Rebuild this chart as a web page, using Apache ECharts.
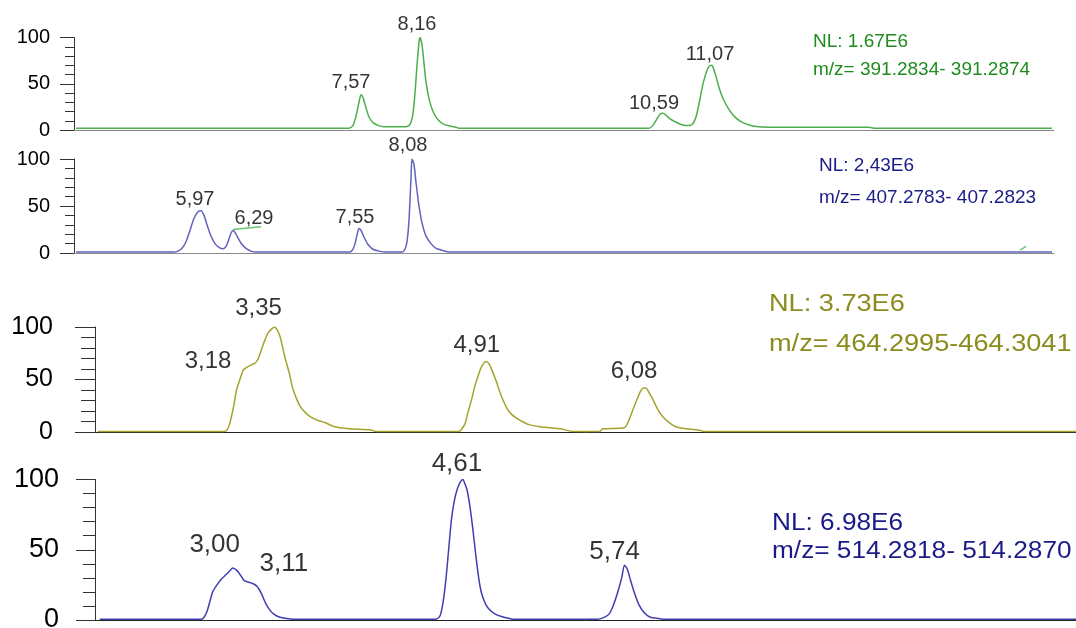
<!DOCTYPE html>
<html><head><meta charset="utf-8">
<script src="https://cdn.jsdelivr.net/npm/echarts@6/dist/echarts.min.js"></script>
<style>html,body{margin:0;padding:0;background:#fff}#c{width:1076px;height:628px}</style>
</head><body><div id="c"></div>
<script>
// ---------------- data ----------------
const yTicks = [0, 50, 100];
const xRange1 = [4.70, 14.50];
const xRange2 = [4.70, 14.50];
const xRange3 = [2.03, 9.24];
const xRange4 = [2.037, 8.897];

const trace1 = [[4.72,2],[7.45,2],[7.49,5],[7.52,15],[7.55,30],[7.57,38],[7.59,35],[7.62,24],[7.65,14],[7.69,8],[7.74,5],[7.80,3.5],[8.02,3.5],[8.06,6],[8.09,18],[8.11,40],[8.13,70],[8.15,95],[8.16,100],[8.18,92],[8.20,72],[8.22,52],[8.25,34],[8.29,20],[8.34,11],[8.40,6],[8.47,4],[8.52,3],[8.55,2],[10.45,2],[10.49,5],[10.53,12],[10.56,17],[10.59,18],[10.62,16],[10.66,12],[10.71,9],[10.77,6],[10.82,5],[10.86,5],[10.89,7],[10.92,14],[10.95,28],[10.98,45],[11.01,58],[11.04,67],[11.07,70],[11.09,68],[11.12,58],[11.15,46],[11.19,34],[11.24,24],[11.30,15],[11.37,9],[11.45,5.5],[11.55,3.5],[11.70,3],[12.65,3],[12.70,2],[14.48,2]];
const trace2 = [[4.72,1],[5.70,1],[5.74,2],[5.78,5],[5.82,12],[5.86,24],[5.90,37],[5.94,44],[5.97,45],[6.00,40],[6.03,30],[6.07,18],[6.11,10],[6.15,6],[6.19,4.5],[6.22,7],[6.25,15],[6.27,21],[6.29,24],[6.31,22],[6.34,16],[6.38,9],[6.42,5],[6.47,2],[6.52,1],[7.46,1],[7.49,4],[7.51,10],[7.53,19],[7.55,26],[7.57,24],[7.60,17],[7.64,9],[7.69,4],[7.75,2],[7.82,1],[7.98,1],[8.01,4],[8.03,12],[8.05,35],[8.07,80],[8.08,100],[8.10,94],[8.12,75],[8.15,50],[8.18,32],[8.22,18],[8.27,10],[8.32,5],[8.38,3],[8.45,1],[14.48,1]];
const stray2a = [[6.29,25],[6.57,28]];
const stray2b = [[14.16,3],[14.22,7]];
const trace3 = [[2.05,0.5],[2.98,0.5],[3.00,2],[3.02,8],[3.05,25],[3.07,40],[3.10,52],[3.12,59],[3.15,62],[3.18,64],[3.21,66],[3.23,70],[3.26,81],[3.28,88],[3.30,94],[3.32,97],[3.35,100],[3.37,97],[3.39,91],[3.41,80],[3.43,69],[3.46,55],[3.48,43],[3.51,32],[3.54,24],[3.58,18],[3.62,14],[3.67,11],[3.72,9],[3.77,6],[3.83,4],[3.90,3],[4.06,2],[4.09,0.5],[4.70,0.5],[4.72,2],[4.75,8],[4.77,18],[4.80,32],[4.82,43],[4.85,55],[4.87,62],[4.90,67],[4.91,67],[4.93,64],[4.95,58],[4.98,48],[5.00,40],[5.03,30],[5.06,22],[5.09,17],[5.13,13],[5.17,10],[5.22,7],[5.30,5],[5.38,4],[5.45,3],[5.55,0.5],[5.74,0.5],[5.76,3],[5.92,4],[5.95,10],[5.98,20],[6.01,30],[6.04,39],[6.06,42],[6.08,42],[6.10,38],[6.13,31],[6.16,23],[6.20,15],[6.25,9],[6.30,5],[6.38,3],[6.48,1.5],[6.50,0.5],[9.24,0.5]];
const trace4 = [[2.07,0.5],[2.78,0.5],[2.80,2],[2.82,6],[2.84,13],[2.86,20],[2.89,25],[2.92,29],[2.95,32],[2.98,35],[3.00,37],[3.02,36],[3.04,34],[3.06,31],[3.08,28],[3.11,27],[3.14,26],[3.17,24],[3.20,19],[3.23,12],[3.26,7],[3.29,4],[3.33,2],[3.38,1],[3.42,0.5],[4.42,0.5],[4.45,3],[4.47,12],[4.49,28],[4.51,50],[4.53,72],[4.55,85],[4.57,93],[4.59,98],[4.61,100],[4.62,98],[4.64,92],[4.66,80],[4.68,64],[4.70,46],[4.72,30],[4.74,19],[4.77,11],[4.80,7],[4.84,4],[4.88,2.5],[4.93,1.2],[4.97,0.5],[5.55,0.5],[5.59,1.5],[5.63,4],[5.66,10],[5.69,19],[5.72,30],[5.74,39],[5.76,36],[5.78,29],[5.81,19],[5.84,11],[5.88,5],[5.92,2],[5.98,1],[6.02,0.5],[8.897,0.5]];

const peaks1 = [[7.57,38],[8.16,100],[10.59,18],[11.07,70]];
const peaks2 = [[5.97,45],[6.29,24],[7.55,26],[8.08,100]];
const peaks3 = [[3.18,64],[3.35,100],[4.91,67],[6.08,42]];
const peaks4 = [[3.00,37],[3.11,27],[4.61,100],[5.74,39]];

const info1 = ['NL: 1.67E6', 'm/z= 391.2834- 391.2874'];
const info2 = ['NL: 2,43E6', 'm/z= 407.2783- 407.2823'];
const info3 = ['NL: 3.73E6', 'm/z= 464.2995-464.3041'];
const info4 = ['NL: 6.98E6', 'm/z= 514.2818- 514.2870'];

// ---------------- styles ----------------
const FONT = '"Liberation Sans", Arial, sans-serif';
const panels = [
  {grid:{left:74, top:37.5, width:980, height:92.5}, range:xRange1, trace:trace1, peaks:peaks1, info:info1,
   line:'#4cae4c', text:'#1e8c1e', xLine:'#8a8a8a', tickFont:20, labelFont:20, margin:24, tickLen:14, minorLen:9,
   lab:[{p:'top',d:2,o:[-10,0]},{p:'top',d:3,o:[-3,0]},{p:'top',d:0,o:[-9,0]},{p:'top',d:1,o:[-1,0]}],
   infoPos:[[813,42],[813,70]], infoFont:19, infoScale:1},
  {grid:{left:74, top:159, width:980, height:94}, range:xRange2, trace:trace2, peaks:peaks2, info:info2,
   line:'#6262bc', text:'#1c1c86', xLine:'#8a8a8a', tickFont:20, labelFont:20, margin:24, tickLen:14, minorLen:9,
   lab:[{p:'top',d:1,o:[-6,0]},{p:'top',d:2,o:[21,0]},{p:'top',d:1,o:[-4,0]},{p:'top',d:4,o:[-4,0]}],
   infoPos:[[819,166],[819,198]], infoFont:19, infoScale:1},
  {grid:{left:95, top:327, width:981, height:105}, range:xRange3, trace:trace3, peaks:peaks3, info:info3,
   line:'#a4a42c', text:'#8c8c1e', xLine:'#222222', tickFont:25, labelFont:24, margin:42, tickLen:20, minorLen:14,
   lab:[{p:'left',d:20,o:[0,-3]},{p:'top',d:7,o:[-16,0]},{p:'top',d:4,o:[-10,0]},{p:'top',d:5,o:[-12,0]}],
   infoPos:[[769,305],[769,345]], infoFont:23, infoScale:1.18},
  {grid:{left:95, top:479.5, width:981, height:140.5}, range:xRange4, trace:trace4, peaks:peaks4, info:info4,
   line:'#3e3eb0', text:'#1a1a88', xLine:'#222222', tickFont:27, labelFont:26, margin:36, tickLen:19, minorLen:12,
   lab:[{p:'top',d:10,o:[-18,0]},{p:'right',d:11,o:[0,-18]},{p:'top',d:3,o:[-6,0]},{p:'top',d:0,o:[-10,0]}],
   infoPos:[[772,524],[772,552]], infoFont:23, infoScale:1.14}
];

const fmt = v => v.toFixed(2).replace('.', ',');

const option = {
  backgroundColor:'#fff',
  animation:false,
  grid: panels.map(p => Object.assign({containLabel:false, outerBoundsMode:'none'}, p.grid)),
  xAxis: panels.map((p,i) => ({
    type:'value', gridIndex:i, min:p.range[0], max:p.range[1],
    axisLine:{show:true, lineStyle:{color:p.xLine, width:1}},
    axisTick:{show:false}, axisLabel:{show:false}, splitLine:{show:false}
  })),
  yAxis: panels.map((p,i) => ({
    type:'value', gridIndex:i, min:yTicks[0], max:yTicks[yTicks.length-1], interval:yTicks[1]-yTicks[0],
    axisLine:{show:true, lineStyle:{color:'#333', width:1}},
    axisTick:{show:true, length:p.tickLen, lineStyle:{color:'#333', width:1}},
    minorTick:{show:true, splitNumber:5, length:p.minorLen, lineStyle:{color:'#333', width:1}},
    axisLabel:{show:true, margin:p.margin, fontFamily:FONT, fontSize:p.tickFont, color:'#000'},
    splitLine:{show:false}
  })),
  series: [],
  graphic: []
};

panels.forEach((p,i) => {
  option.series.push({
    type:'line', xAxisIndex:i, yAxisIndex:i, data:p.trace, showSymbol:false, smooth:0.25,
    lineStyle:{color:p.line, width:1.5}, silent:true, z:3
  });
  option.series.push({
    type:'scatter', xAxisIndex:i, yAxisIndex:i, symbolSize:0, silent:true, z:4,
    data:p.peaks.map((pk,k) => ({
      value:pk,
      label:{show:true, position:p.lab[k].p, distance:p.lab[k].d, offset:p.lab[k].o,
        formatter: () => fmt(pk[0]), fontFamily:FONT, fontSize:p.labelFont, color:'#000'}
    }))
  });
  p.info.forEach((t,k) => {
    option.graphic.push({
      type:'text', x:p.infoPos[k][0], y:p.infoPos[k][1], scaleX:p.infoScale, silent:true,
      style:{text:t, fill:p.text, font:p.infoFont + 'px ' + FONT, verticalAlign:'middle', textVerticalAlign:'middle'}
    });
  });
});

// stray green fragments visible in the second panel
[stray2a, stray2b].forEach(s => option.series.push({
  type:'line', xAxisIndex:1, yAxisIndex:1, data:s, showSymbol:false,
  lineStyle:{color:'#6cc46c', width:1.5}, silent:true, z:5
}));

const chart = echarts.init(document.getElementById('c'), null, {renderer:'canvas'});
chart.setOption(option);
</script>
</body></html>
